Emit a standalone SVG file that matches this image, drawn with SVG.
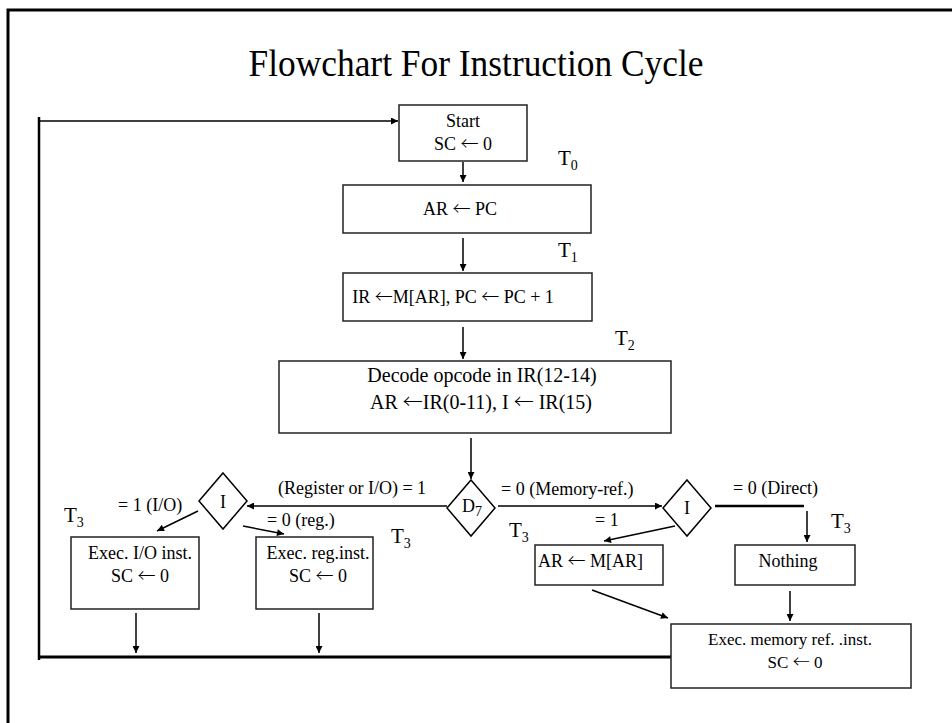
<svg xmlns="http://www.w3.org/2000/svg" width="952" height="723" viewBox="0 0 952 723">
  <defs>
    <marker id="arrow" viewBox="0 0 10 10" refX="10" refY="5" markerWidth="8" markerHeight="7" markerUnits="userSpaceOnUse" orient="auto">
      <path d="M0,0 L10,5 L0,10 z" fill="#000"/>
    </marker>
  </defs>
  <style>
    text { font-family: "Liberation Serif", "Times New Roman", serif; fill: #000; }
    .box { fill: #fff; stroke: #222; stroke-width: 1.5; }
    .dia { fill: #fff; stroke: #000; stroke-width: 1.5; }
    .t18 { font-size: 18px; }
    .t20 { font-size: 20px; }
    .mid { text-anchor: middle; }
    .tl { font-size: 21px; }
    .sub { font-size: 14px; }
    .la { font-family: "Noto Sans CJK JP", "DejaVu Serif", serif; font-weight: 300; }
    .con { fill: none; stroke: #000; stroke-width: 1.5; }
    .arr { marker-end: url(#arrow); }
    .heavy { fill: none; stroke: #000; stroke-width: 3; }
  </style>

  <rect width="952" height="723" fill="#fff"/>

  <!-- page frame -->
  <path d="M8,723 V10 H952" fill="none" stroke="#000" stroke-width="3"/>

  <text x="476" y="76" class="mid" style="font-size:37px" textLength="455" lengthAdjust="spacingAndGlyphs">Flowchart For Instruction Cycle</text>

  <!-- connectors -->
  <g id="connectors">
    <line class="con arr" x1="463" y1="162" x2="463" y2="182"/>
    <line class="con arr" x1="463" y1="238" x2="463" y2="271"/>
    <line class="con arr" x1="463" y1="327" x2="463" y2="359"/>
    <line class="con arr" x1="471" y1="438" x2="471" y2="479"/>
    <line class="con arr" x1="447" y1="506" x2="247" y2="506"/>
    <line class="con arr" x1="198" y1="511" x2="157" y2="531"/>
    <line class="con arr" x1="243" y1="526" x2="284" y2="534"/>
    <line class="con arr" x1="498" y1="506" x2="662" y2="506"/>
    <line class="con arr" x1="675" y1="526" x2="604" y2="541"/>
    <line x1="715" y1="506" x2="804" y2="506" stroke="#000" stroke-width="2.5"/>
    <line class="con arr" x1="807" y1="511" x2="807" y2="542"/>
    <line class="con arr" x1="592" y1="590" x2="668" y2="618"/>
    <line class="con arr" x1="790" y1="591" x2="790" y2="621"/>
    <line class="con arr" x1="136" y1="613" x2="136" y2="653"/>
    <line class="con arr" x1="319" y1="613" x2="319" y2="653"/>
    <line class="heavy" x1="39" y1="657" x2="671" y2="657"/>
    <line x1="39" y1="117" x2="39" y2="660" stroke="#000" stroke-width="2.5"/>
    <line class="con arr" x1="39" y1="121" x2="398" y2="121"/>
  </g>

  <g id="start">
    <rect class="box" x="399" y="105" width="128" height="56"/>
    <text x="463" y="127" class="t18 mid">Start</text>
    <text x="463" y="150" class="t18 mid">SC <tspan class="la">←</tspan> 0</text>
  </g>
  <g id="t0"><text x="558" y="165" class="tl">T<tspan class="sub" dy="5">0</tspan></text></g>

  <g id="ar-pc">
    <rect class="box" x="343" y="185" width="248" height="48"/>
    <text x="460" y="215" class="t18 mid">AR <tspan class="la">←</tspan> PC</text>
  </g>
  <g id="t1"><text x="558" y="257" class="tl">T<tspan class="sub" dy="5">1</tspan></text></g>

  <g id="fetch">
    <rect class="box" x="343" y="273" width="249" height="48"/>
    <text x="453" y="303" class="t18 mid">IR <tspan class="la">←</tspan>M[AR], PC <tspan class="la">←</tspan> PC + 1</text>
  </g>
  <g id="t2"><text x="615" y="345" class="tl">T<tspan class="sub" dy="5">2</tspan></text></g>

  <g id="decode">
    <rect class="box" x="279" y="361" width="392" height="72"/>
    <text x="482" y="382" class="t20 mid">Decode opcode in IR(12-14)</text>
    <text x="481" y="409" class="t20 mid">AR <tspan class="la">←</tspan>IR(0-11), I <tspan class="la">←</tspan> IR(15)</text>
  </g>

  <g id="d7">
    <polygon class="dia" points="471,480 495,508 471,536 447,508"/>
    <text x="462" y="512" class="t18">D<tspan class="sub" dy="4">7</tspan></text>
  </g>
  <text x="278" y="494" class="t18">(Register or I/O) = 1</text>
  <text x="501" y="495" class="t18">= 0  (Memory-ref.)</text>

  <g id="i-left">
    <polygon class="dia" points="223,473 247,501 223,529 199,501"/>
    <text x="223" y="508" class="t18 mid">I</text>
  </g>
  <text x="118" y="511" class="t18">= 1 (I/O)</text>
  <text x="267" y="526" class="t18">= 0 (reg.)</text>
  <g id="t3-io"><text x="64" y="522" class="tl">T<tspan class="sub" dy="5">3</tspan></text></g>
  <g id="t3-reg"><text x="391" y="543" class="tl">T<tspan class="sub" dy="5">3</tspan></text></g>

  <g id="exec-io">
    <rect class="box" x="71" y="537" width="128" height="72"/>
    <text x="140" y="559" class="t18 mid">Exec. I/O inst.</text>
    <text x="140" y="582" class="t18 mid">SC <tspan class="la">←</tspan> 0</text>
  </g>
  <g id="exec-reg">
    <rect class="box" x="256" y="537" width="117" height="72"/>
    <text x="318" y="559" class="t18 mid">Exec. reg.inst.</text>
    <text x="318" y="582" class="t18 mid">SC <tspan class="la">←</tspan> 0</text>
  </g>

  <g id="i-right">
    <polygon class="dia" points="687,480 711,508 687,536 663,508"/>
    <text x="687" y="514" class="t18 mid">I</text>
  </g>
  <text x="595" y="526" class="t18">= 1</text>
  <text x="733" y="494" class="t18">= 0 (Direct)</text>
  <g id="t3-mem"><text x="509" y="537" class="tl">T<tspan class="sub" dy="5">3</tspan></text></g>
  <g id="t3-direct"><text x="831" y="528" class="tl">T<tspan class="sub" dy="5">3</tspan></text></g>

  <g id="indirect">
    <rect class="box" x="535" y="545" width="128" height="40"/>
    <text x="538" y="567" class="t18">AR  <tspan class="la">←</tspan> M[AR]</text>
  </g>
  <g id="nothing">
    <rect class="box" x="735" y="545" width="120" height="40"/>
    <text x="788" y="567" class="t18 mid">Nothing</text>
  </g>

  <g id="exec-mem">
    <rect class="box" x="671" y="624" width="240" height="64"/>
    <text x="790" y="645" class="mid" style="font-size:17px">Exec. memory ref. .inst.</text>
    <text x="795" y="668" class="mid" style="font-size:17px">SC <tspan class="la">←</tspan> 0</text>
  </g>
</svg>
